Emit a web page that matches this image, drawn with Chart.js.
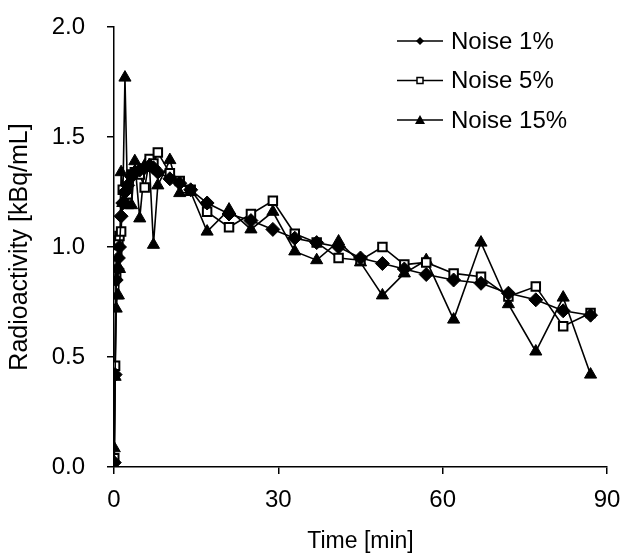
<!DOCTYPE html>
<html lang="en">
  <head>
    <meta charset="UTF-8" />
    <title>Radioactivity vs time</title>
    <script src="https://cdn.jsdelivr.net/npm/chart.js@4.4.1/dist/chart.umd.min.js"></script>
    <style>
      body { margin: 0; background: #fff; }
    </style>
  </head>
  <body>
    <canvas id="myChart" width="620" height="557"></canvas>
    <script>
      // sampling times [min]
      var times = [0.05, 0.2, 0.4, 0.6, 0.8, 1.0, 1.3, 1.6, 2.0, 2.5, 3.2, 3.8,
        4.7, 5.6, 6.5, 7.2, 8.0, 10.2, 12, 14, 17, 21, 25, 29, 33, 37, 41, 45,
        49, 53, 57, 62, 67, 72, 77, 82, 87];

      // radioactivity [kBq/mL] for each noise level
      var noise1 = [0.02, 0.42, 0.85, 0.90, 0.95, 1.00, 1.14, 1.20, 1.25, 1.28, 1.32, 1.34,
        1.35, 1.36, 1.37, 1.36, 1.34, 1.31, 1.29, 1.26, 1.20, 1.15, 1.12, 1.08, 1.04, 1.02,
        1.00, 0.95, 0.925, 0.90, 0.875, 0.85, 0.835, 0.79, 0.76, 0.71, 0.69];
      var noise5 = [0.04, 0.46, 0.87, 0.97, 1.03, 1.05, 1.07, 1.26, 1.24, 1.24, 1.33, 1.34,
        1.33, 1.27, 1.40, 1.38, 1.43, 1.335, 1.30, 1.26, 1.16, 1.09, 1.15, 1.21, 1.06, 1.02,
        0.95, 0.94, 1.00, 0.92, 0.93, 0.88, 0.865, 0.775, 0.82, 0.64, 0.70];
      var noise15 = [0.085, 0.41, 0.72, 0.78, 0.78, 0.90, 1.34, 1.20, 1.77, 1.19, 1.19, 1.39,
        1.13, 1.37, 1.36, 1.01, 1.28, 1.395, 1.245, 1.25, 1.07, 1.17, 1.08, 1.16, 0.98, 0.94,
        1.025, 0.93, 0.78, 0.88, 0.94, 0.67, 1.02, 0.74, 0.525, 0.77, 0.42];

      var seriesNames = ["Noise 1%", "Noise 5%", "Noise 15%"];
      var xTicks = [0, 30, 60, 90];
      var yTicks = [0, 0.5, 1.0, 1.5, 2.0];

      var FONT = "'Liberation Sans', Arial, sans-serif";

      function toPoints(vals) {
        return vals.map(function (v, i) { return { x: times[i], y: v }; });
      }

      // legend drawn inside the plot, top right
      var legendBox = {
        id: "legendBox",
        afterDraw: function (chart) {
          var ctx = chart.ctx;
          var styles = ["diamond", "square", "triangle"];
          for (var i = 0; i < seriesNames.length; i++) {
            var y = 41 + i * 39.5;
            ctx.save();
            ctx.strokeStyle = "#000";
            ctx.lineWidth = 1.5;
            ctx.beginPath();
            ctx.moveTo(397, y);
            ctx.lineTo(443, y);
            ctx.stroke();
            ctx.beginPath();
            if (styles[i] == "diamond") {
              ctx.moveTo(420, y - 4); ctx.lineTo(424, y); ctx.lineTo(420, y + 4); ctx.lineTo(416, y);
              ctx.closePath();
              ctx.fillStyle = "#000"; ctx.fill();
            } else if (styles[i] == "square") {
              ctx.rect(417, y - 3, 6, 6);
              ctx.fillStyle = "#fff"; ctx.fill(); ctx.stroke();
            } else {
              ctx.moveTo(420, y - 5); ctx.lineTo(425, y + 4); ctx.lineTo(415, y + 4);
              ctx.closePath();
              ctx.fillStyle = "#000"; ctx.fill();
            }
            ctx.fillStyle = "#000";
            ctx.font = "24px " + FONT;
            ctx.textBaseline = "middle";
            ctx.textAlign = "left";
            ctx.fillText(seriesNames[i], 451, y + 1);
            ctx.restore();
          }
        },
      };

      var ctx = document.getElementById("myChart").getContext("2d");
      var myChart = new Chart(ctx, {
        type: "line",
        data: {
          datasets: [
            {
              label: seriesNames[0],
              data: toPoints(noise1),
              borderColor: "#000",
              borderWidth: 1.6,
              pointStyle: "rectRot",
              pointRadius: 7,
              pointBackgroundColor: "#000",
              pointBorderColor: "#000",
              pointBorderWidth: 1,
            },
            {
              label: seriesNames[1],
              data: toPoints(noise5),
              borderColor: "#000",
              borderWidth: 1.6,
              pointStyle: "rect",
              pointRadius: 6,
              pointBackgroundColor: "#fff",
              pointBorderColor: "#000",
              pointBorderWidth: 2,
            },
            {
              label: seriesNames[2],
              data: toPoints(noise15),
              borderColor: "#000",
              borderWidth: 1.6,
              pointStyle: "triangle",
              pointRadius: 7,
              pointBackgroundColor: "#000",
              pointBorderColor: "#000",
              pointBorderWidth: 1,
            },
          ],
        },
        options: {
          responsive: false,
          animation: false,
          layout: { padding: { top: 27, right: 13, left: 0, bottom: 0 } },
          plugins: {
            legend: { display: false },
            tooltip: { enabled: false },
          },
          scales: {
            x: {
              type: "linear",
              min: 0,
              max: 90,
              afterBuildTicks: function (scale) {
                scale.ticks = xTicks.map(function (v) { return { value: v }; });
              },
              afterFit: function (scale) {
                scale.height = 90;
                scale.paddingRight = 0;
                scale.paddingLeft = 0;
              },
              grid: { drawOnChartArea: false, drawTicks: true, tickLength: 7, color: "#000", lineWidth: 1.5 },
              border: { display: true, color: "#000", width: 1.5 },
              ticks: {
                color: "#000",
                font: { family: FONT, size: 24 },
                padding: 12,
                maxRotation: 0,
              },
              title: {
                display: true,
                text: "Time [min]",
                color: "#000",
                font: { family: FONT, size: 23 },
                padding: { top: 0, bottom: 2 },
              },
            },
            y: {
              min: 0,
              max: 2,
              afterBuildTicks: function (scale) {
                scale.ticks = yTicks.map(function (v) { return { value: v }; });
              },
              afterFit: function (scale) {
                scale.width = 114;
                scale.paddingTop = 0;
                scale.paddingBottom = 0;
              },
              grid: { drawOnChartArea: false, drawTicks: true, tickLength: 7, color: "#000", lineWidth: 1.5 },
              border: { display: true, color: "#000", width: 1.5 },
              ticks: {
                color: "#000",
                font: { family: FONT, size: 24 },
                padding: 22,
                callback: function (v) { return Number(v).toFixed(1); },
              },
              title: {
                display: true,
                text: "Radioactivity [kBq/mL]",
                color: "#000",
                font: { family: FONT, size: 25 },
                padding: { top: 5, bottom: 0 },
              },
            },
          },
        },
        plugins: [legendBox],
      });
    </script>
  </body>
</html>
